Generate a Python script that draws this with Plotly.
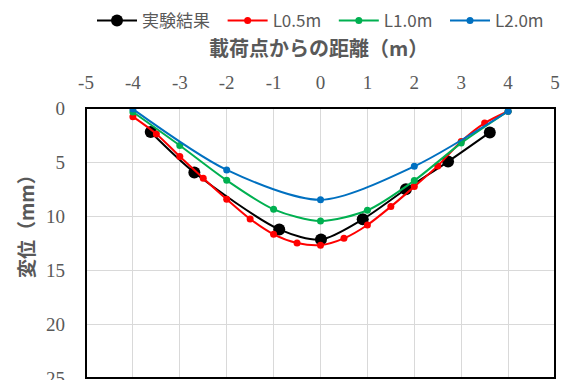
import plotly.graph_objects as go

# Distance from loading point (m) and displacement (mm)
exp_x = [-3.62, -2.69, -0.88, 0.01, 0.90, 1.82, 2.72, 3.61]
exp_y = [2.23, 5.98, 11.24, 12.17, 10.30, 7.52, 4.96, 2.26]

l05_x = [-4, -3.5, -3, -2.5, -2, -1.5, -1, -0.5, 0, 0.5, 1, 1.5, 2, 2.5, 3, 3.5, 4]
l05_y = [0.8, 2.4, 4.49, 6.5, 8.45, 10.28, 11.7, 12.5, 12.7, 12.07, 10.83, 9.13, 7.28, 5.36, 3.1, 1.4, 0.3]

l10_x = [-4, -3, -2, -1, 0, 1, 2, 3, 4]
l10_y = [0.37, 3.47, 6.7, 9.38, 10.46, 9.47, 6.72, 3.25, 0.3]

l20_x = [-4, -2, 0, 2, 4]
l20_y = [0.1, 5.73, 8.5, 5.4, 0.3]

x_ticks = [-5, -4, -3, -2, -1, 0, 1, 2, 3, 4, 5]
y_ticks = [0, 5, 10, 15, 20, 25]

GRAY = "#595959"
CJK = "Noto Sans CJK JP"
SERIF = "Liberation Serif"
PAD = "\u00a0\u00a0"  # extra spacing between legend entries

fig = go.Figure()

series = [
    ("実験結果" + PAD, exp_x, exp_y, "#000000", 12),
    ("L0.5m" + PAD, l05_x, l05_y, "#ff0000", 7),
    ("L1.0m" + PAD, l10_x, l10_y, "#00b050", 7),
    ("L2.0m", l20_x, l20_y, "#0070c0", 7),
]
for name, xs, ys, color, msize in series:
    fig.add_trace(go.Scatter(
        x=xs, y=ys, name=name, mode="lines+markers",
        line=dict(color=color, width=2, shape="spline", smoothing=0.8),
        marker=dict(color=color, size=msize),
    ))

fig.update_layout(
    width=571, height=380,
    margin=dict(l=86, r=16, t=108, b=2),
    paper_bgcolor="white", plot_bgcolor="white",
    font=dict(family=CJK, color=GRAY),
    showlegend=True,
    legend=dict(
        orientation="h", x=0.5, xanchor="center",
        yref="container", y=1 - 21 / 380, yanchor="middle",
        font=dict(family=CJK, size=17, color=GRAY),
        itemwidth=40, tracegroupgap=0,
    ),
    xaxis=dict(
        side="top", range=[-5, 5], tickvals=x_ticks,
        ticktext=[str(v) for v in x_ticks],
        showgrid=True, gridcolor="#d9d9d9", gridwidth=1,
        zeroline=False, showline=False, ticks="",
        ticklabelstandoff=14, ticklabeloverflow="allow", automargin=False,
        tickfont=dict(family=SERIF, size=19, color=GRAY),
    ),
    yaxis=dict(
        range=[25, 0], tickvals=y_ticks,
        ticktext=[str(v) for v in y_ticks],
        showgrid=True, gridcolor="#d9d9d9", gridwidth=1,
        zeroline=False, showline=False, ticks="",
        ticklabelstandoff=20, ticklabeloverflow="allow", automargin=False,
        tickfont=dict(family=SERIF, size=19, color=GRAY),
    ),
    shapes=[dict(
        type="rect", xref="paper", yref="paper", x0=0, x1=1, y0=0, y1=1,
        line=dict(color="#000000", width=2), layer="above",
    )],
    annotations=[
        dict(
            text="<b>載荷点からの距離（m）</b>", xref="paper", yref="paper",
            x=0.495, y=(378 - 48) / 270, xanchor="center", yanchor="middle",
            showarrow=False, font=dict(family=CJK, size=20, color=GRAY),
        ),
        dict(
            text="<b>変位（mm）</b>", xref="paper", yref="paper",
            x=(25 - 86) / 469, y=(378 - 222) / 270, xanchor="center", yanchor="middle",
            textangle=-90, showarrow=False, font=dict(family=CJK, size=19, color=GRAY),
        ),
    ],
)

fig.write_html("out.html")
